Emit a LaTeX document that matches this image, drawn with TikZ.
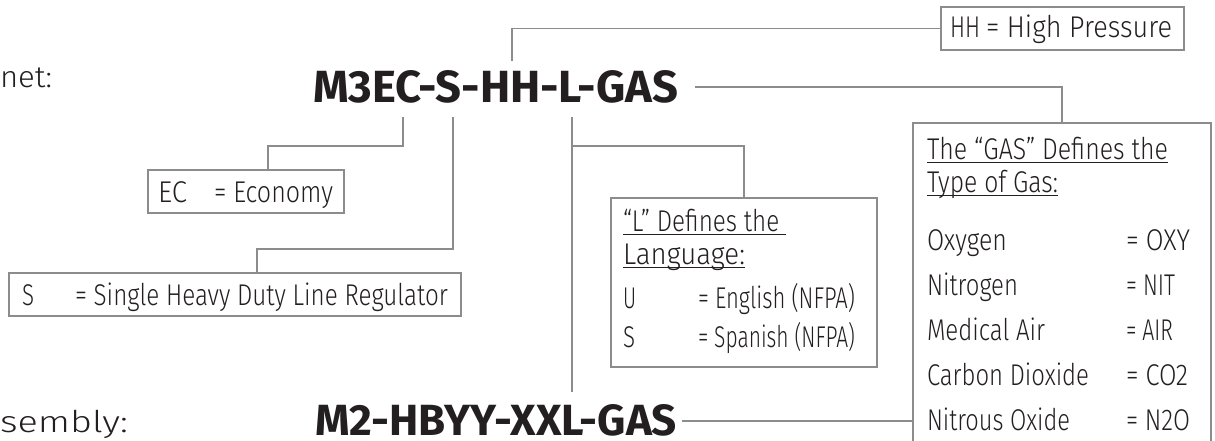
\documentclass[tikz,border=0pt]{standalone}
\usepackage{fontspec}
\setmainfont{Fira Sans Light}[FakeStretch=0.85]
\newfontfamily\titlefont{Fira Sans Bold}
\definecolor{ink}{RGB}{35,31,32}
\definecolor{rulegray}{RGB}{140,140,140}
\newcommand\fw[2]{\resizebox{#1}{\height}{#2}}
\newcommand\ulin[1]{\setbox0\hbox{#1}\rlap{\raisebox{-4pt}{\rule{\wd0}{1.3pt}}}\box0}
\begin{document}
\begin{tikzpicture}[x=1pt,y=-1pt,
  every node/.style={inner sep=0pt,outer sep=0pt,text=ink,font=\fontsize{30}{36}\selectfont},
  conn/.style={draw=rulegray,line width=1.2pt},
  box/.style={draw=rulegray,line width=1.3pt,anchor=north west,inner sep=0pt},
  txt/.style={anchor=base west}]
\useasboundingbox (0,0) rectangle (1215,440);

% titles and side labels
\node[txt] (net) at (0,87) {\fw{52pt}{net:}};
\node[txt] (t1) at (313,102) {\resizebox{365pt}{32pt}{\titlefont M3EC-S-HH-L-GAS}};
\node[txt] (asm) at (0,432) {\fw{128pt}{sembly:}};
\node[txt] (t2) at (315,435) {\resizebox{362pt}{31pt}{\titlefont M2-HBYY-XXL-GAS}};

% boxes
\node[box,minimum width=243pt,minimum height=43pt] (hh) at (941,7) {};
\node[box,minimum width=196pt,minimum height=43pt] (ec) at (148,170) {};
\node[box,minimum width=452pt,minimum height=43pt] (sb) at (9,273) {};
\node[box,minimum width=266pt,minimum height=169pt] (lb) at (611,198) {};
\node[box,minimum width=298pt,minimum height=340pt] (gb) at (913,123) {};

% box texts
\node[txt] (hhk) at (950,37) {\fw{30pt}{HH}};
\node[txt] (hhv) at (986,37) {\fw{186pt}{= High Pressure}};
\node[txt] (eck) at (158,202) {\fw{29pt}{EC}};
\node[txt] (ecv) at (214,202) {\fw{119pt}{= Economy}};
\node[txt] (sk) at (22,305) {\fw{12pt}{S}};
\node[txt] (sv) at (75,305) {\fw{373pt}{= Single Heavy Duty Line Regulator}};

\node[txt] (lh1) at (623,231) {\fw{163pt}{\ulin{“L” Defines the\ }}};
\node[txt] (lh2) at (623,264) {\fw{122pt}{\ulin{Language:}}};
\node[txt] (luk) at (623,308) {\fw{13pt}{U}};
\node[txt] (luv) at (698,308) {\fw{157pt}{= English (NFPA)}};
\node[txt] (lsk) at (623,347) {\fw{12pt}{S}};
\node[txt] (lsv) at (698,347) {\fw{157pt}{= Spanish (NFPA)}};

\node[txt] (gh1) at (927,159) {\fw{241pt}{\ulin{The “GAS” Defines the}}};
\node[txt] (gh2) at (927,192) {\fw{131pt}{\ulin{Type of Gas:}}};
\node[txt] (g1k) at (927,250) {\fw{80pt}{Oxygen}};
\node[txt] (g1v) at (1126,250) {\fw{64pt}{= OXY}};
\node[txt] (g2k) at (927,295) {\fw{91pt}{Nitrogen}};
\node[txt] (g2v) at (1126,295) {\fw{49pt}{= NIT}};
\node[txt] (g3k) at (927,340) {\fw{118pt}{Medical Air}};
\node[txt] (g3v) at (1126,340) {\fw{47pt}{= AIR}};
\node[txt] (g4k) at (927,385) {\fw{162pt}{Carbon Dioxide}};
\node[txt] (g4v) at (1126,385) {\fw{62pt}{= CO2}};
\node[txt] (g5k) at (927,430) {\fw{143pt}{Nitrous Oxide}};
\node[txt] (g5v) at (1126,430) {\fw{64pt}{= N2O}};

% connectors
\coordinate (hhtap) at (512,61);
\draw[conn] (hhtap) |- (hh.west);
\coordinate (ectap) at (403,117);
\coordinate (ecj) at (268,146);
\draw[conn] (ectap) |- (ecj) -- (ecj |- ec.north);
\coordinate (stap) at (453,117);
\coordinate (sj) at (257,249);
\draw[conn] (stap) |- (sj) -- (sj |- sb.north);
\coordinate (ltap) at (572,117);
\coordinate (lend) at (572,392);
\draw[conn] (ltap) -- (lend);
\coordinate (lj) at (572,146);
\draw[conn] (lj) -| (lb.north);
\coordinate (gtap) at (695,87);
\draw[conn] (gtap) -| (gb.north);
\coordinate (t2tap) at (682,421);
\draw[conn] (t2tap) -- (t2tap -| gb.west);
\end{tikzpicture}
\end{document}
